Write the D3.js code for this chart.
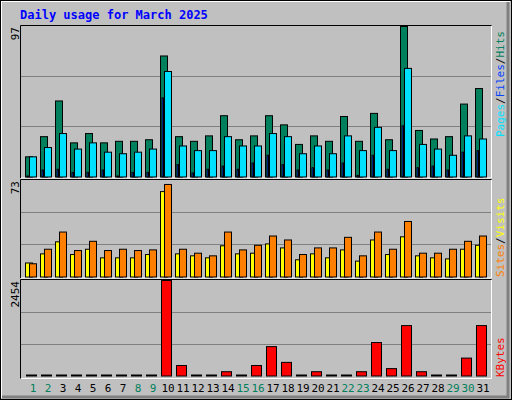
<!DOCTYPE html>
<html>
<head>
<meta charset="utf-8">
<script src="https://cdn.jsdelivr.net/npm/d3@7"></script>
<style>
  body { margin: 0; background: #fff; }
  svg { display: block; }
  text { font-family: "DejaVu Sans Mono", monospace; }
</style>
</head>
<body>
<svg id="chart" width="512" height="400"></svg>
<script>
// daily values
const days = d3.range(1, 32);
const weekends = [1, 2, 8, 9, 15, 16, 22, 23, 29, 30];
const hits = [13, 26, 49, 22, 28, 22, 23, 23, 24, 78, 26, 23, 26.5, 39.5, 24, 26.5,
  39.5, 33.6, 21, 26.5, 23, 39, 23, 41, 24, 97, 30, 24.5, 26, 47, 57];
const files = [13, 19, 28, 18, 22, 16, 15, 16, 18, 68, 20, 17, 17, 26, 20, 20,
  28, 26, 15, 20, 15, 26.5, 17, 32, 17, 70, 21, 18, 14, 26.5, 24.5];
const pages = [0, 4.5, 5, 3, 3, 4.5, 0, 3, 3, 51, 8, 2.6, 5, 7, 5, 9,
  14, 8, 4.5, 6, 4.5, 9, 1, 14, 5, 33, 6, 7, 4.5, 16, 17];
const sites = [10.6, 17.5, 26.6, 17, 21, 14.5, 14.5, 14.5, 17, 64.6, 17.5, 16, 14.5, 23.6, 17.5, 18,
  25, 22, 13, 17.5, 14.5, 20.5, 12, 28, 17, 30.4, 16, 14.5, 13.7, 21, 24];
const visits = [10, 21, 34, 20, 27, 20, 21, 20, 20.5, 70, 21, 18, 16, 34, 20.5, 24,
  31, 28, 17, 22, 22, 30, 16, 34, 21, 42, 18, 18, 21, 27, 31];
const kbytes = [0, 0, 0, 0, 0, 0, 0, 0, 0, 2454, 270, 0, 0, 110, 0, 270,
  755, 350, 0, 110, 0, 0, 110, 860, 190, 1295, 110, 0, 0, 460, 1295];
const maxLabels = ['97', '73', '2454'];

const colors = {
  hits: '#00805c', files: '#00e0ff', pages: '#0040ff',
  sites: '#ffff00', visits: '#ff8000', kbytes: '#ff0000',
};

const svg = d3.select('#chart');

// outer 3d frame
svg.append('rect').attr('x', 0).attr('y', 0).attr('width', 512).attr('height', 400).attr('fill', '#c0c0c0');
svg.append('path').attr('d', 'M1,398V1H510').attr('stroke', '#fff').attr('stroke-width', 2).attr('fill', 'none');
svg.append('path').attr('d', 'M2,397H508V2').attr('stroke', '#808080').attr('stroke-width', 3).attr('fill', 'none');
svg.append('rect').attr('x', 0.5).attr('y', 0.5).attr('width', 511).attr('height', 399).attr('fill', 'none').attr('stroke', '#000');

svg.append('text').attr('x', 20).attr('y', 19)
  .attr('fill', '#0000ff').attr('font-weight', 'bold').attr('font-size', 12)
  .text('Daily usage for March 2025');

const x = d3.scaleLinear().domain([1, 32]).range([25, 490]);

const panels = [
  { top: 26, bottom: 176.5, max: 97, label: maxLabels[0] },
  { top: 180, bottom: 276.5, max: 73, label: maxLabels[1] },
  { top: 280, bottom: 375.5, max: 2454, label: maxLabels[2] },
];

panels.forEach((p, i) => {
  const y0 = p.top - 1, y1 = i === 2 ? 378 : p.bottom + 1;
  svg.append('rect').attr('x', 20.5).attr('y', y0 + 0.5).attr('width', 471).attr('height', y1 - y0)
    .attr('fill', '#c0c0c0').attr('stroke', 'none');
  // inset frame: black top/left, white bottom/right
  svg.append('path').attr('d', `M20.5,${y1 + 0.5}V${y0 + 0.5}H491.5`).attr('stroke', '#000').attr('fill', 'none');
  svg.append('path').attr('d', `M21,${y1 + 0.5}H491.5V${y0 + 1}`).attr('stroke', '#fff').attr('fill', 'none');
  p.y = d3.scaleLinear().domain([0, p.max]).range([p.bottom, p.top]);
  const h = p.bottom - p.top;
  [1, 2].forEach(k => {
    const gy = Math.round(p.bottom - h * k / 3) + 0.5;
    svg.append('line').attr('x1', 21).attr('x2', 491).attr('y1', gy).attr('y2', gy)
      .attr('stroke', '#808080');
  });
  svg.append('text')
    .attr('transform', `translate(19,${p.top + 1}) rotate(-90)`)
    .attr('text-anchor', 'end').attr('font-size', 11).attr('fill', '#000')
    .text(p.label);
});

function bars(panel, values, offset, width, color) {
  svg.append('g').selectAll('rect')
    .data(values)
    .join('rect')
    .attr('x', (d, i) => x(days[i]) + offset + 0.5)
    .attr('y', d => Math.min(panel.y(d), panel.bottom - 1) + 0.5)
    .attr('width', width)
    .attr('height', d => Math.max(panel.bottom - panel.y(d), 1))
    .attr('fill', color)
    .attr('stroke', '#000');
}

bars(panels[0], hits, 0, 7, colors.hits);
bars(panels[0], pages, 1.5, 1.5, colors.pages);
bars(panels[0], files, 4, 7, colors.files);
bars(panels[1], sites, 0, 7, colors.sites);
bars(panels[1], visits, 4, 7, colors.visits);
bars(panels[2], kbytes, 1, 10, colors.kbytes);

// day labels
svg.append('g').selectAll('text')
  .data(days)
  .join('text')
  .attr('x', d => x(d) + 8)
  .attr('y', 392)
  .attr('text-anchor', 'middle')
  .attr('font-size', 11)
  .attr('font-family', 'DejaVu Sans, sans-serif')
  .attr('fill', d => weekends.includes(d) ? '#00805c' : '#000')
  .text(d => d);

// right side legends, reading bottom to top
function legend(parts, yEnd) {
  const t = svg.append('text')
    .attr('transform', `translate(504,${yEnd}) rotate(-90)`)
    .attr('font-size', 11);
  parts.forEach(([s, c]) => t.append('tspan').attr('fill', c).text(s));
}
legend([['Pages', colors.files], ['/', '#000'], ['Files', colors.pages], ['/', '#000'], ['Hits', colors.hits]], 137);
legend([['Sites', colors.visits], ['/', '#000'], ['Visits', colors.sites]], 277);
legend([['KBytes', colors.kbytes]], 377);
</script>
</body>
</html>
